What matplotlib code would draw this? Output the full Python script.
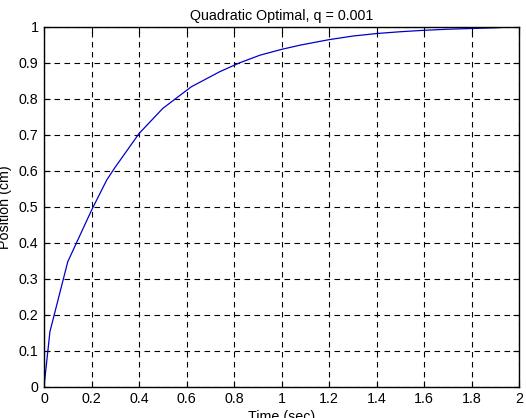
import matplotlib
matplotlib.use("Agg")
import matplotlib.pyplot as plt

# response
time_s = [0, 0.025, 0.1, 0.2, 0.264, 0.3, 0.4, 0.5, 0.62, 0.74, 0.825,
          0.91, 1.0, 1.08, 1.2, 1.3, 1.4, 1.5, 1.6, 1.7, 1.8, 1.9, 2.0]
position = [0, 0.153, 0.347, 0.49, 0.574, 0.61, 0.703, 0.773, 0.833, 0.875,
            0.9, 0.921, 0.937, 0.949, 0.964, 0.974, 0.981, 0.986, 0.99,
            0.993, 0.995, 0.997, 1.0]

x_ticks = [0, 0.2, 0.4, 0.6, 0.8, 1, 1.2, 1.4, 1.6, 1.8, 2]
x_labels = ["0", "0.2", "0.4", "0.6", "0.8", "1", "1.2", "1.4", "1.6", "1.8", "2"]
y_ticks = [0, 0.1, 0.2, 0.3, 0.4, 0.5, 0.6, 0.7, 0.8, 0.9, 1]
y_labels = ["0", "0.1", "0.2", "0.3", "0.4", "0.5", "0.6", "0.7", "0.8", "0.9", "1"]

plt.rcParams["font.family"] = ["Liberation Sans", "DejaVu Sans"]

fig = plt.figure(figsize=(5.26, 4.18), dpi=100)
ax = fig.add_axes([44 / 526, 31.3 / 418, 475 / 526, 360 / 418])
ax.plot(time_s, position, color="#0000cc", linewidth=0.9)

ax.set_xlim(0, 2)
ax.set_ylim(0, 1)
ax.set_xticks(x_ticks)
ax.set_xticklabels(x_labels)
ax.set_yticks(y_ticks)
ax.set_yticklabels(y_labels)
ax.tick_params(direction="in", top=True, right=True, length=4, labelsize=10.3,
               colors="black", pad=4)
ax.grid(True, color="black", linestyle=(0, (5, 4)), linewidth=0.8)
for s in ax.spines.values():
    s.set_linewidth(1.0)

ax.set_title("Quadratic Optimal, q = 0.001", fontsize=10.3, pad=5)
ax.set_xlabel("Time (sec)", fontsize=10.3, labelpad=3)
ax.set_ylabel("Position (cm)", fontsize=10.3, labelpad=5)

fig.savefig("out.png", dpi=100)
